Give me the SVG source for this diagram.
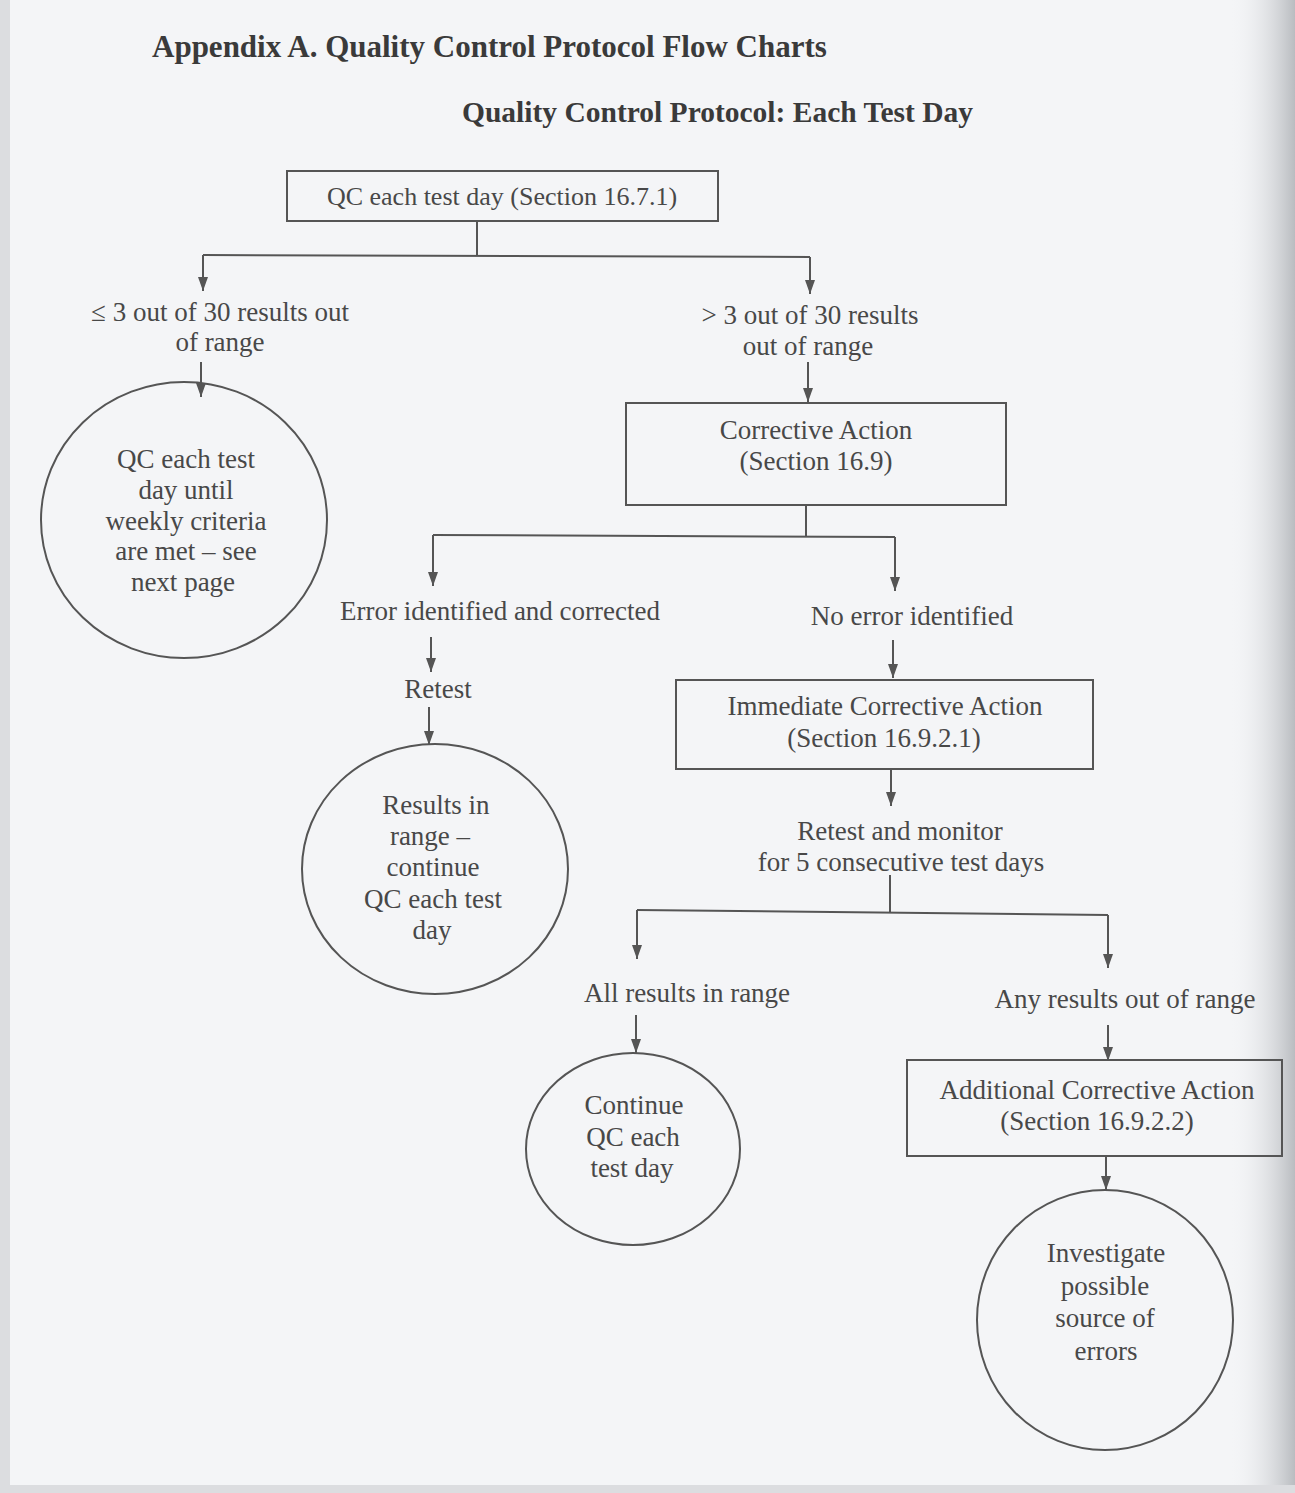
<svg xmlns="http://www.w3.org/2000/svg" width="1295" height="1493" viewBox="0 0 1295 1493">
<defs>
<marker id="ah" viewBox="0 0 14 10" refX="14" refY="5" markerWidth="14" markerHeight="10" markerUnits="userSpaceOnUse" orient="auto">
<path d="M0,0 L14,5 L0,10 Z" fill="#555"/>
</marker>
<linearGradient id="rshade" x1="0" y1="0" x2="1" y2="0">
<stop offset="0" stop-color="#f3f4f6" stop-opacity="0"/>
<stop offset="1" stop-color="#b9bcc0"/>
</linearGradient>
<style>
text{font-family:"Liberation Serif","Times New Roman",Tinos,serif;fill:#484848;font-size:27px;text-anchor:middle}
.h{font-weight:bold;font-size:31px;text-anchor:start;fill:#3a3a3a}
.h2{font-size:29.5px}
.sm{font-size:26px}
.box{fill:none;stroke:#555;stroke-width:2}
.conn line{stroke:#555;stroke-width:2;fill:none}
.arr{marker-end:url(#ah)}
</style>
</defs>
<rect x="0" y="0" width="1295" height="1493" fill="#f4f5f7"/>
<rect x="1230" y="0" width="65" height="1493" fill="url(#rshade)"/>
<rect x="0" y="0" width="10" height="1493" fill="#dcdde0"/>
<rect x="0" y="1485" width="1295" height="8" fill="#dcdde0"/>

<g id="titles">
<text class="h" x="152" y="57">Appendix A. Quality Control Protocol Flow Charts</text>
<text class="h h2" x="462" y="122">Quality Control Protocol: Each Test Day</text>
</g>

<g id="n-qc-day">
<rect class="box" x="287" y="171" width="431" height="50"/>
<text class="sm" x="502" y="205">QC each test day (Section 16.7.1)</text>
</g>
<g id="l-le3">
<text x="220" y="321">≤ 3 out of 30 results out</text>
<text x="220" y="351">of range</text>
</g>
<g id="l-gt3">
<text x="810" y="324">&gt; 3 out of 30 results</text>
<text x="808" y="355">out of range</text>
</g>
<g id="n-weekly">
<ellipse class="box" cx="184" cy="520" rx="143" ry="138"/>
<text x="186" y="468">QC each test</text>
<text x="186" y="499">day until</text>
<text x="186" y="530">weekly criteria</text>
<text x="186" y="560">are met – see</text>
<text x="183" y="591">next page</text>
</g>
<g id="n-corrective">
<rect class="box" x="626" y="403" width="380" height="102"/>
<text x="816" y="439">Corrective Action</text>
<text x="816" y="470">(Section 16.9)</text>
</g>
<g id="l-error">
<text x="500" y="620">Error identified and corrected</text>
</g>
<g id="l-noerror">
<text x="912" y="625">No error identified</text>
</g>
<g id="l-retest">
<text x="438" y="698">Retest</text>
</g>
<g id="n-results-in-range">
<ellipse class="box" cx="435" cy="869" rx="133" ry="125"/>
<text x="436" y="814">Results in</text>
<text x="430" y="845">range –</text>
<text x="433" y="876">continue</text>
<text x="433" y="908">QC each test</text>
<text x="432" y="939">day</text>
</g>
<g id="n-immediate">
<rect class="box" x="676" y="680" width="417" height="89"/>
<text x="885" y="715">Immediate Corrective Action</text>
<text x="884" y="747">(Section 16.9.2.1)</text>
</g>
<g id="l-monitor">
<text x="900" y="840">Retest and monitor</text>
<text x="901" y="871">for 5 consecutive test days</text>
</g>
<g id="l-all">
<text x="687" y="1002">All results in range</text>
</g>
<g id="l-any">
<text x="1125" y="1008">Any results out of range</text>
</g>
<g id="n-continue">
<ellipse class="box" cx="633" cy="1149" rx="107" ry="96"/>
<text x="634" y="1114">Continue</text>
<text x="633" y="1146">QC each</text>
<text x="632" y="1177">test day</text>
</g>
<g id="n-additional">
<rect class="box" x="907" y="1060" width="375" height="96"/>
<text x="1097" y="1099">Additional Corrective Action</text>
<text x="1097" y="1130">(Section 16.9.2.2)</text>
</g>
<g id="n-investigate">
<ellipse class="box" cx="1105" cy="1320" rx="128" ry="130"/>
<text x="1106" y="1262">Investigate</text>
<text x="1105" y="1295">possible</text>
<text x="1105" y="1327">source of</text>
<text x="1106" y="1360">errors</text>
</g>

<g id="connectors" class="conn">
<line x1="477" y1="221" x2="477" y2="255"/>
<line x1="203" y1="255" x2="810" y2="257"/>
<line class="arr" x1="203" y1="255" x2="203" y2="291"/>
<line class="arr" x1="810" y1="257" x2="810" y2="294"/>
<line class="arr" x1="201" y1="362" x2="201" y2="397"/>
<line class="arr" x1="808" y1="362" x2="808" y2="402"/>
<line x1="806" y1="505" x2="806" y2="536"/>
<line x1="433" y1="535" x2="895" y2="537"/>
<line class="arr" x1="433" y1="535" x2="433" y2="586"/>
<line class="arr" x1="895" y1="537" x2="895" y2="591"/>
<line class="arr" x1="431" y1="637" x2="431" y2="672"/>
<line class="arr" x1="429" y1="707" x2="429" y2="745"/>
<line class="arr" x1="893" y1="640" x2="893" y2="678"/>
<line class="arr" x1="891" y1="769" x2="891" y2="806"/>
<line x1="890" y1="875" x2="890" y2="912"/>
<line x1="637" y1="910" x2="1108" y2="915"/>
<line class="arr" x1="637" y1="910" x2="637" y2="959"/>
<line class="arr" x1="1108" y1="915" x2="1108" y2="968"/>
<line class="arr" x1="636" y1="1015" x2="636" y2="1053"/>
<line class="arr" x1="1108" y1="1025" x2="1108" y2="1061"/>
<line class="arr" x1="1106" y1="1156" x2="1106" y2="1190"/>
</g>
</svg>
